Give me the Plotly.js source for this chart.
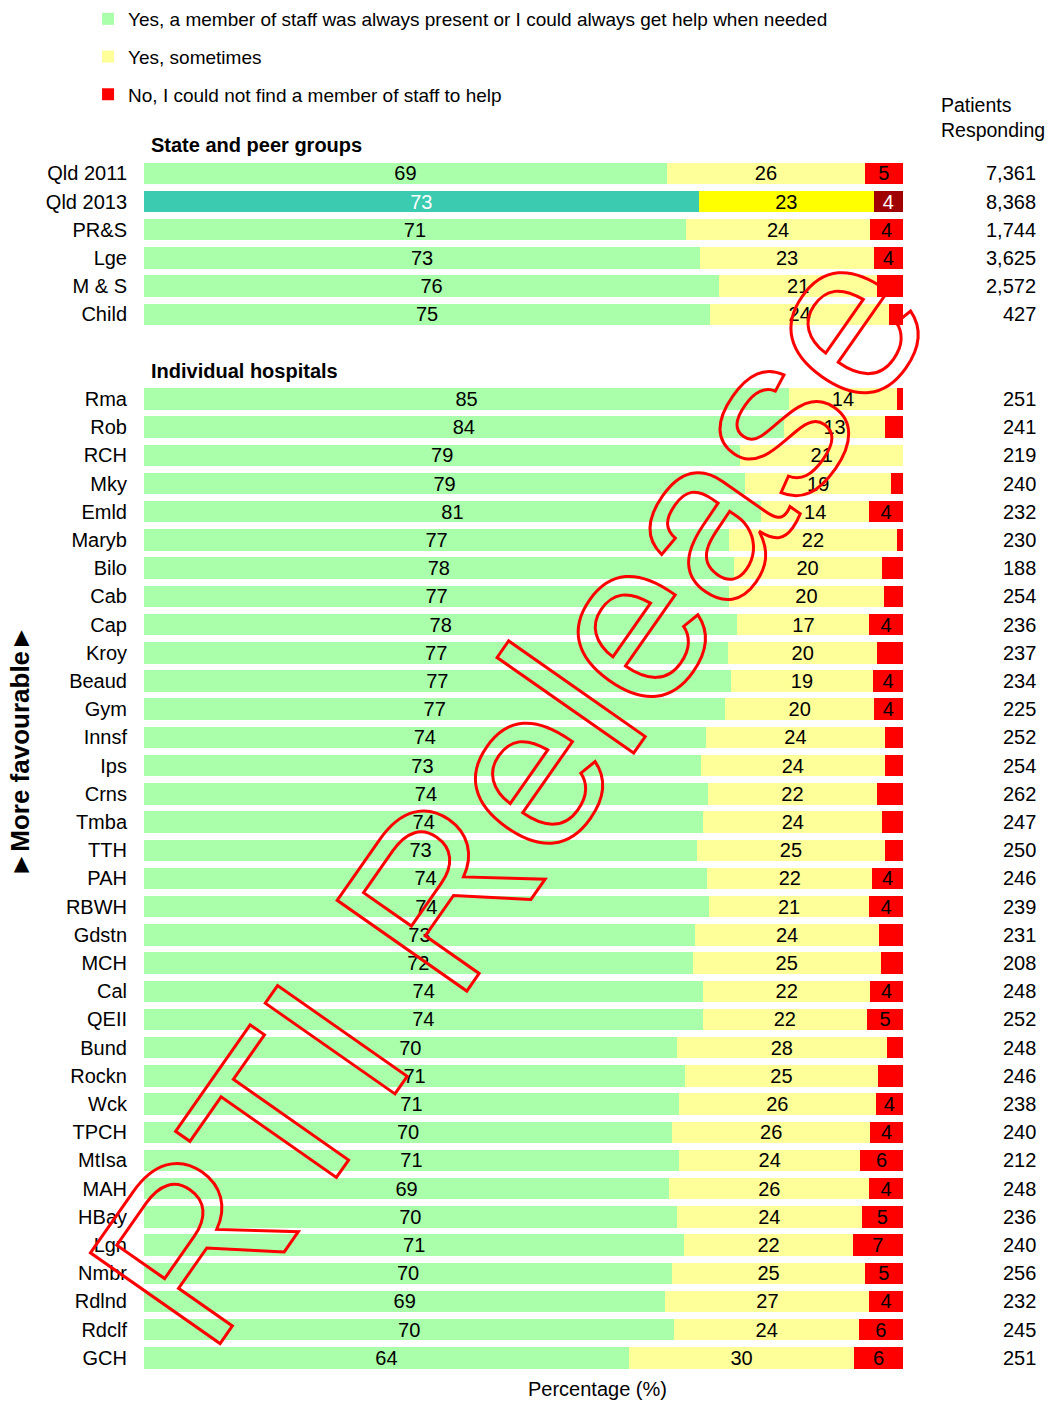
<!DOCTYPE html>
<html><head><meta charset="utf-8">
<script src="https://cdn.plot.ly/plotly-3.0.1.min.js"></script>
<style>html,body{margin:0;padding:0;background:#fff}#chart{width:1052px;height:1401px}</style>
</head><body><div id="chart"></div>
<script>
// ---- data ----
const groups = ['Qld 2011','Qld 2013','PR&S','Lge','M & S','Child'];
const groupAlways    = [68.9, 73.1, 71.4, 73.3, 75.8, 74.6];
const groupSometimes = [26.1, 23.1, 24.3, 22.9, 20.8, 23.6];
const groupNo        = [5.0, 3.8, 4.3, 3.8, 3.4, 1.8];
const groupPatients  = ['7,361','8,368','1,744','3,625','2,572','427'];

const hospitals = ['Rma','Rob','RCH','Mky','Emld','Maryb','Bilo','Cab','Cap','Kroy','Beaud','Gym','Innsf','Ips','Crns','Tmba','TTH','PAH','RBWH','Gdstn','MCH','Cal','QEII','Bund','Rockn','Wck','TPCH','MtIsa','MAH','HBay','Lgn','Nmbr','Rdlnd','Rdclf','GCH'];
const hospAlways    = [85.0,84.3,78.6,79.2,81.3,77.1,77.7,77.1,78.2,77.0,77.3,76.6,74.0,73.4,74.3,73.7,72.9,74.2,74.4,72.6,72.3,73.7,73.6,70.2,71.3,70.5,69.6,70.5,69.2,70.2,71.2,69.6,68.7,69.9,63.9];
const hospSometimes = [14.2,13.4,21.4,19.3,14.3,22.1,19.5,20.4,17.4,19.6,18.8,19.6,23.7,24.2,22.3,23.6,24.7,21.8,21.2,24.3,24.8,22.0,21.7,27.7,25.4,25.9,26.1,23.9,26.4,24.4,22.2,25.4,26.9,24.3,29.7];
const hospNo        = [0.8,2.3,0,1.5,4.4,0.8,2.8,2.5,4.4,3.4,3.9,3.8,2.3,2.4,3.4,2.7,2.4,4.0,4.4,3.1,2.9,4.3,4.7,2.1,3.3,3.6,4.3,5.6,4.4,5.4,6.6,5.0,4.4,5.8,6.4];
const hospPatients  = ['251','241','219','240','232','230','188','254','236','237','234','225','252','254','262','247','250','246','239','231','208','248','252','248','246','238','240','212','248','236','240','256','232','245','251'];

const seriesNames = ['Yes, a member of staff was always present or I could always get help when needed','Yes, sometimes','No, I could not find a member of staff to help'];
const highlightRow = 'Qld 2013';
const sectionTitles = ['State and peer groups','Individual hospitals'];

// ---- styles ----
const FONT = 'Liberation Sans, Arial, Helvetica, sans-serif';
const baseColors = ['#aaffaa','#ffff99','#ff0000'];
const hiColors   = ['#3acbb0','#ffff00','#a00000'];
const hiText     = ['#ffffff','#000000','#ffffff'];

// rows incl. blank header rows
const rows = ['_h1', ...groups, '_gap', '_h2', ...hospitals];
const tickText = rows.map(r => r.startsWith('_') ? '' : r);

function build(gv, hv) {
  const m = {};
  groups.forEach((g,i)=>m[g]=gv[i]);
  hospitals.forEach((h,i)=>m[h]=hv[i]);
  return rows.map(r => (r in m) ? m[r] : null);
}
const series = [
  build(groupAlways, hospAlways),
  build(groupSometimes, hospSometimes),
  build(groupNo, hospNo)
];

const traces = series.map((vals, k) => {
  const text = vals.map(v => {
    if (v === null) return '';
    if (k === 2 && v < 3.5) return '';
    return String(Math.round(v));
  });
  return {
    type: 'bar', orientation: 'h', name: seriesNames[k], legendgroup: 'g'+k,
    y: rows, x: vals, text: text,
    textposition: 'inside', insidetextanchor: 'middle', textangle: 0, constraintext: 'none',
    textfont: {family: FONT, size: 20, color: rows.map(r => r === highlightRow ? hiText[k] : '#000000')},
    marker: {color: rows.map(r => r === highlightRow ? hiColors[k] : baseColors[k]), line: {width: 0}},
    hoverinfo: 'skip', cliponaxis: false
  };
});

const annotations = [];
// patients responding
[...groups.map((g,i)=>[g,groupPatients[i]]), ...hospitals.map((h,i)=>[h,hospPatients[i]])].forEach(([r,n]) => {
  annotations.push({xref:'paper', yref:'y', x:1.178, y: rows.indexOf(r), xanchor:'right', yanchor:'middle',
    text:n, showarrow:false, font:{family:FONT, size:20, color:'#000'}});
});
annotations.push({xref:'paper', yref:'paper', x:1.0474, y:1.0105, xanchor:'left', yanchor:'middle', align:'left',
  text:'Patients<br>Responding', showarrow:false, font:{family:FONT, size:19.5, color:'#000'}});
// section headers
annotations.push({xref:'paper', yref:'y', x:0.0066, y: rows.indexOf('_h1'), xanchor:'left', yanchor:'middle',
  text:'<b>'+sectionTitles[0]+'</b>', showarrow:false, font:{family:FONT, size:20, color:'#000'}});
annotations.push({xref:'paper', yref:'y', x:0.0066, y: rows.indexOf('_h2'), xanchor:'left', yanchor:'middle',
  text:'<b>'+sectionTitles[1]+'</b>', showarrow:false, font:{family:FONT, size:20, color:'#000'}});
// axis titles
annotations.push({xref:'paper', yref:'paper', x:0.598, y:-0.0137, xanchor:'center', yanchor:'middle',
  text:'Percentage (%)', showarrow:false, font:{family:FONT, size:20, color:'#000'}});
annotations.push({xref:'paper', yref:'paper', x:-0.1634, y:0.5, xanchor:'center', yanchor:'middle', textangle:-90,
  text:'<b>\u25BAMore favourable\u25BA</b>', showarrow:false, font:{family:FONT, size:26, color:'#000'}});
// watermark
annotations.push({xref:'paper', yref:'paper', x:0.482, y:0.4674, xanchor:'center', yanchor:'middle', textangle:-55,
  text:'RTI Release', showarrow:false, font:{family:FONT, size:230, color:'#ff0000'}, name:'wm'});

const layout = {
  width: 1052, height: 1401,
  margin: {l:144, r:149, t:131, b:29, pad:0, autoexpand:false},
  paper_bgcolor:'#ffffff', plot_bgcolor:'#ffffff',
  barmode:'stack', bargap:0.24,
  font:{family:FONT, size:20, color:'#000'},
  xaxis:{range:[0,100.02], showticklabels:false, ticks:'', showgrid:false, zeroline:false, showline:false, fixedrange:true, automargin:false},
  yaxis:{type:'category', categoryorder:'array', categoryarray: rows, range:[rows.length-0.5, -0.5],
    tickmode:'array', tickvals: rows, ticktext: tickText, ticks:'', ticklabelstandoff: 16, automargin:false,
    showgrid:false, zeroline:false, showline:false, tickfont:{family:FONT, size:20, color:'#000'}, fixedrange:true},
  showlegend:true,
  legend:{xref:'container', yref:'container', x:0.0837, y:1, xanchor:'left', yanchor:'top', traceorder:'grouped', tracegroupgap:10,
    font:{family:FONT, size:19, color:'#000'}, bgcolor:'rgba(0,0,0,0)', borderwidth:0, itemwidth:30},
  annotations: annotations
};

Plotly.newPlot('chart', traces, layout, {displayModeBar:false, staticPlot:true}).then(() => {
  document.querySelectorAll('.annotation-text').forEach(t => {
    if (t.textContent === 'RTI Release') {
      t.style.fill = 'none';
      t.style.stroke = '#ff0000';
      t.style.strokeWidth = '3px';
    }
  });
});
</script>
</body></html>
